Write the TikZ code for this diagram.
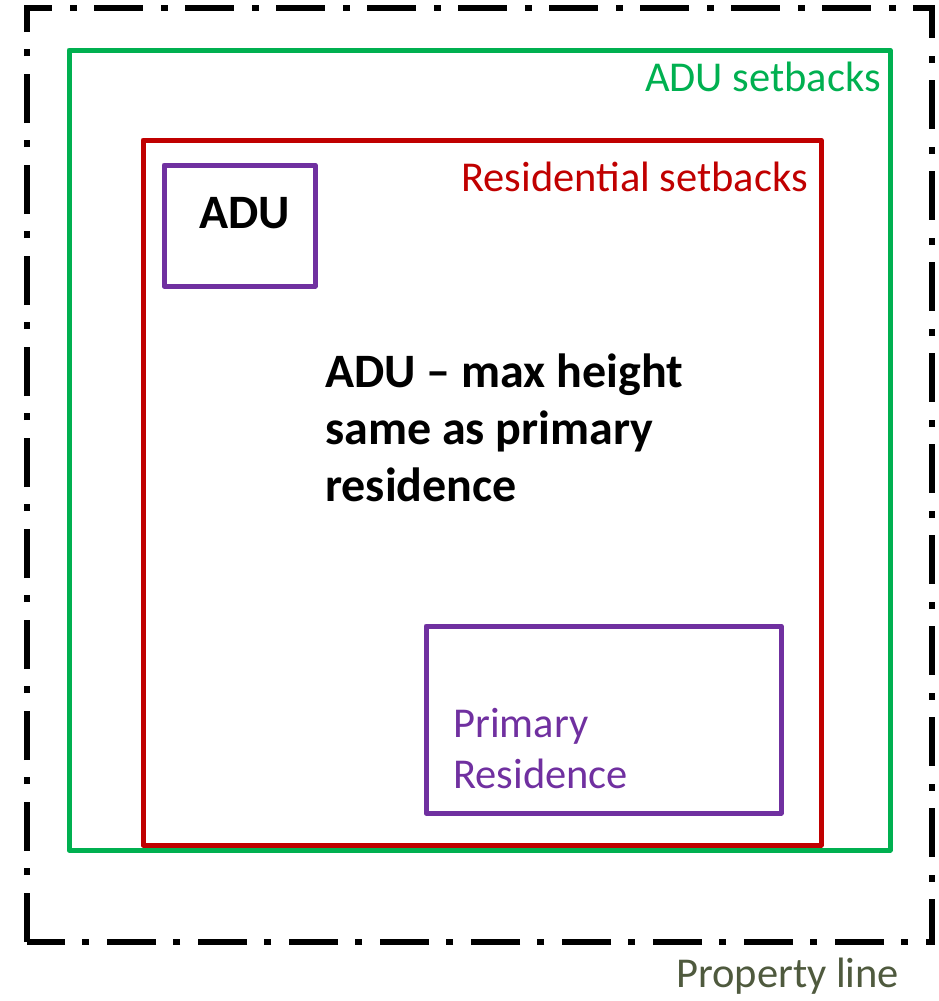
\documentclass[tikz,border=0pt]{standalone}
\usepackage{fontspec}
\setmainfont{Carlito}
\definecolor{adugreen}{HTML}{00B050}
\definecolor{resred}{HTML}{C00000}
\definecolor{purp}{HTML}{7030A0}
\definecolor{olive}{HTML}{4F5A3E}
\begin{document}
\begin{tikzpicture}[x=1pt,y=-1pt,
  propline/.style={line width=6pt,black,dash pattern=on 49pt off 18pt on 7pt off 17pt},
  greenbox/.style={line width=5pt,adugreen,line join=round},
  redbox/.style={line width=5pt,resred,line join=round},
  purpbox/.style={line width=5pt,purp,line join=round},
  lbl/.style={inner sep=0pt,font=\fontsize{42.5}{51}\selectfont},
  bold/.style={inner sep=0pt,align=left,font=\fontsize{48}{57}\selectfont\bfseries}]
\useasboundingbox (0,0) rectangle (938,1001);
\draw[propline] (27,942) -- (27,8) -- (932,8) -- (932,942) -- cycle;
\draw[greenbox] (69,50) rectangle (890,850);
\draw[redbox] (143,140) rectangle (821,845);
\draw[purpbox] (164,165) rectangle (315,286);
\draw[purpbox] (426,626) rectangle (781,813);
\node[lbl,adugreen,anchor=base east] (adus) at (881,91) {ADU setbacks};
\node[lbl,resred,anchor=base east] (ress) at (808,191) {Residential setbacks};
\node[bold,anchor=base west] (adu) at (199,228) {ADU};
\node[bold,anchor=base west] (mh) at (325,501) {ADU – max height\\same as primary\\residence};
\node[lbl,purp,anchor=base west,align=left] (pr) at (453,788) {Primary\\Residence};
\node[lbl,olive,anchor=base west] (pl) at (676,987) {Property line};
\end{tikzpicture}
\end{document}
